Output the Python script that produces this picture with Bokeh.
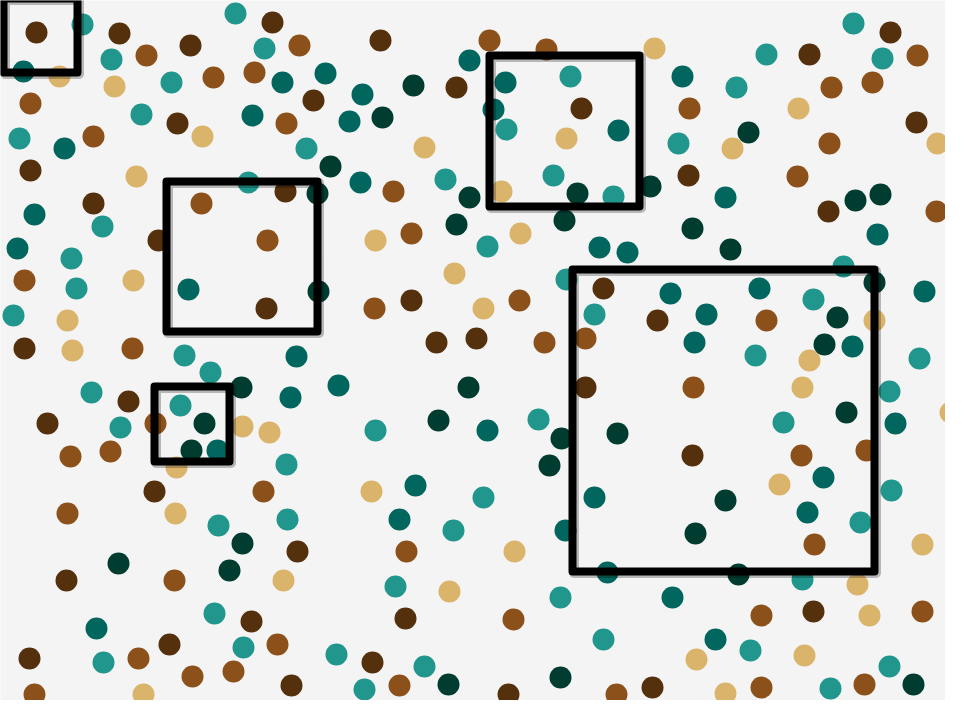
from bokeh.plotting import figure
from bokeh.models import Range1d
from bokeh.embed import file_html
from bokeh.resources import INLINE

# point positions (pixels, y down)
dark_brown = [(36, 32), (119, 33), (190, 45), (272, 22), (313, 100), (177, 123), (30, 170), (93, 203),
              (158, 240), (285, 191), (380, 40), (456, 87), (581, 108), (809, 54), (890, 32), (916, 122),
              (688, 175), (828, 211), (24, 348), (266, 308), (128, 401), (47, 423), (411, 300), (436, 342),
              (476, 338), (603, 288), (585, 387), (657, 320), (692, 455), (154, 491), (297, 551), (66, 580),
              (251, 621), (29, 658), (169, 644), (291, 685), (405, 618), (372, 662), (508, 694), (652, 687),
              (813, 611)]
brown = [(146, 55), (213, 77), (299, 45), (254, 72), (30, 103), (93, 136), (286, 123), (201, 203),
         (267, 240), (489, 40), (546, 49), (393, 191), (411, 233), (917, 55), (831, 87), (872, 82),
         (689, 108), (829, 143), (797, 176), (936, 211), (24, 280), (132, 348), (155, 423), (70, 456),
         (110, 451), (374, 308), (519, 300), (585, 338), (544, 342), (766, 320), (693, 387), (801, 455),
         (866, 450), (67, 513), (263, 491), (174, 580), (277, 644), (138, 658), (192, 676), (233, 671),
         (34, 694), (406, 551), (513, 619), (399, 685), (616, 694), (814, 544), (761, 615), (922, 611),
         (761, 687), (864, 684)]
tan = [(59, 76), (114, 86), (202, 136), (136, 176), (654, 48), (566, 138), (424, 147), (501, 191),
       (375, 240), (520, 233), (798, 108), (732, 148), (937, 143), (133, 280), (67, 320), (72, 350),
       (242, 426), (269, 432), (176, 467), (454, 273), (483, 308), (874, 320), (809, 360), (802, 387),
       (950, 412), (779, 484), (175, 513), (283, 580), (143, 694), (371, 491), (514, 551), (449, 591),
       (922, 544), (857, 584), (869, 615), (696, 659), (804, 655), (725, 693)]
teal = [(82, 24), (111, 59), (171, 82), (235, 13), (264, 48), (19, 138), (141, 114), (306, 148),
        (102, 226), (248, 182), (570, 76), (506, 129), (445, 179), (553, 175), (613, 196), (487, 246),
        (853, 23), (882, 58), (766, 54), (736, 87), (678, 143), (71, 258), (76, 288), (13, 315),
        (184, 355), (210, 372), (91, 392), (180, 405), (120, 427), (286, 464), (566, 279), (594, 314),
        (375, 430), (538, 419), (843, 266), (813, 299), (755, 355), (919, 358), (889, 391), (783, 422),
        (287, 519), (218, 525), (214, 613), (243, 647), (103, 662), (336, 654), (483, 497), (453, 530),
        (395, 586), (560, 597), (603, 639), (424, 666), (364, 689), (891, 490), (860, 522), (802, 579),
        (750, 650), (830, 688), (889, 666)]
dark_teal = [(23, 71), (282, 82), (325, 73), (64, 148), (252, 115), (34, 214), (469, 60), (362, 94),
             (505, 82), (349, 121), (493, 109), (618, 130), (360, 182), (682, 76), (725, 197), (877, 234),
             (17, 248), (188, 289), (296, 356), (290, 397), (217, 450), (599, 247), (627, 252), (338, 385),
             (487, 430), (924, 291), (670, 293), (759, 288), (706, 314), (694, 342), (852, 346), (895, 423),
             (823, 477), (96, 628), (415, 485), (399, 519), (565, 530), (594, 497), (607, 572), (807, 512),
             (672, 597), (715, 639)]
darkest = [(330, 166), (317, 193), (413, 85), (382, 117), (469, 197), (577, 193), (650, 186), (456, 224),
           (564, 220), (748, 132), (855, 200), (880, 194), (692, 228), (730, 249), (241, 387), (204, 423),
           (191, 450), (318, 291), (468, 387), (438, 420), (561, 438), (617, 433), (549, 465), (874, 282),
           (837, 317), (824, 344), (846, 412), (242, 543), (118, 563), (229, 570), (448, 684), (560, 677),
           (725, 500), (695, 533), (738, 574), (913, 684)]

groups = [dark_brown, brown, tan, teal, dark_teal, darkest]
colors = ["#54300d", "#8c511a", "#dbb46c", "#21968c", "#01665e", "#003c30"]

# selection boxes: centre x, centre y, width, height
box_x = [40, 241.5, 191.5, 564, 723]
box_y = [35, 256, 423.5, 130.5, 420]
box_w = [74, 151, 75, 150, 302]
box_h = [74, 150, 75, 151, 302]

p = figure(width=945, height=700, output_backend="svg", toolbar_location=None,
           x_axis_location=None, y_axis_location=None,
           x_range=Range1d(0, 945), y_range=Range1d(700, 0),
           min_border=0)
p.grid.visible = False
p.outline_line_color = None
p.background_fill_color = "#f4f4f4"
p.border_fill_color = "#f4f4f4"

for pts, c in zip(groups, colors):
    xs = [a for a, b in pts]
    ys = [b for a, b in pts]
    p.scatter(xs, ys, size=22, marker="circle", fill_color=c, line_color=None)

# soft shadow then the black boxes
p.rect([x + 1.5 for x in box_x], [y + 1.5 for y in box_y], box_w, box_h,
       fill_color=None, line_color="#000000", line_alpha=0.25, line_width=10, line_join="round")
p.rect(box_x, box_y, box_w, box_h, fill_color=None, line_color="#000000",
       line_width=8, line_join="round")

open("out.html", "w").write(file_html(p, INLINE))
